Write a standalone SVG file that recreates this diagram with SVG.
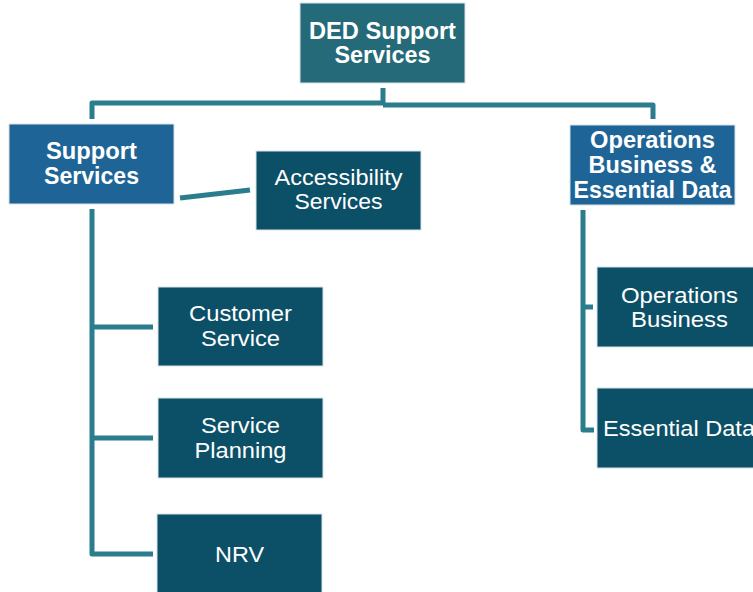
<svg xmlns="http://www.w3.org/2000/svg" width="753" height="592" viewBox="0 0 753 592">
  <style>
    .box { stroke: #d7e3e8; stroke-width: 1; }
    .top { fill: #246a78; }
    .mid { fill: #1f6496; }
    .leaf { fill: #0c5068; }
    .lbl { font-family: "Liberation Sans", Arial, sans-serif; fill: #ffffff; text-anchor: middle; }
    .b { font-weight: bold; font-size: 23px; }
    .r { font-size: 22px; }
    .wire { fill: none; stroke: #2a7d8c; stroke-width: 5; stroke-linejoin: round; stroke-linecap: butt; }
  </style>
  <rect width="753" height="592" fill="#ffffff"/>

  <g id="connectors">
    <path class="wire" d="M383 88 V103"/>
    <path class="wire" d="M92 119 V103 H383"/>
    <path class="wire" d="M383 105 H653 V119"/>
    <path class="wire" d="M180 198 L250 190"/>
    <path class="wire" d="M92 209 V554 H153"/>
    <path class="wire" d="M92 327 H153"/>
    <path class="wire" d="M92 438 H153"/>
    <path class="wire" d="M583 210 V430 H594"/>
    <path class="wire" d="M583 307 H593"/>
  </g>

  <g id="ded-support-services">
    <rect class="box top" x="300" y="3" width="165" height="80"/>
    <text class="lbl b" x="382.5" y="38.5" textLength="147" lengthAdjust="spacingAndGlyphs">DED Support</text>
    <text class="lbl b" x="382.5" y="62.5" textLength="96" lengthAdjust="spacingAndGlyphs">Services</text>
  </g>

  <g id="support-services">
    <rect class="box mid" x="9" y="124" width="165" height="80"/>
    <text class="lbl b" x="91.5" y="159" textLength="91" lengthAdjust="spacingAndGlyphs">Support</text>
    <text class="lbl b" x="91.5" y="183.5" textLength="95" lengthAdjust="spacingAndGlyphs">Services</text>
  </g>

  <g id="operations-business-essential-data">
    <rect class="box mid" x="570" y="125" width="165" height="80"/>
    <text class="lbl b" x="652.5" y="148" textLength="125" lengthAdjust="spacingAndGlyphs">Operations</text>
    <text class="lbl b" x="652.5" y="172.5" textLength="128" lengthAdjust="spacingAndGlyphs">Business &amp;</text>
    <text class="lbl b" x="652.5" y="197.5" textLength="158" lengthAdjust="spacingAndGlyphs">Essential Data</text>
  </g>

  <g id="accessibility-services">
    <rect class="box leaf" x="256" y="151" width="165" height="79"/>
    <text class="lbl r" x="338.5" y="185" textLength="128" lengthAdjust="spacingAndGlyphs">Accessibility</text>
    <text class="lbl r" x="338.5" y="209" textLength="88" lengthAdjust="spacingAndGlyphs">Services</text>
  </g>

  <g id="customer-service">
    <rect class="box leaf" x="158" y="287" width="165" height="79"/>
    <text class="lbl r" x="240.5" y="321" textLength="103" lengthAdjust="spacingAndGlyphs">Customer</text>
    <text class="lbl r" x="240.5" y="346" textLength="79" lengthAdjust="spacingAndGlyphs">Service</text>
  </g>

  <g id="service-planning">
    <rect class="box leaf" x="158" y="398" width="165" height="80"/>
    <text class="lbl r" x="240.5" y="432.5" textLength="79" lengthAdjust="spacingAndGlyphs">Service</text>
    <text class="lbl r" x="240.5" y="457.5" textLength="92" lengthAdjust="spacingAndGlyphs">Planning</text>
  </g>

  <g id="nrv">
    <rect class="box leaf" x="157" y="514" width="165" height="82"/>
    <text class="lbl r" x="239.5" y="562" textLength="49" lengthAdjust="spacingAndGlyphs">NRV</text>
  </g>

  <g id="operations-business">
    <rect class="box leaf" x="597" y="267" width="165" height="80"/>
    <text class="lbl r" x="679.5" y="302.5" textLength="117" lengthAdjust="spacingAndGlyphs">Operations</text>
    <text class="lbl r" x="679.5" y="326.5" textLength="97" lengthAdjust="spacingAndGlyphs">Business</text>
  </g>

  <g id="essential-data">
    <rect class="box leaf" x="597" y="388" width="165" height="80"/>
    <text class="lbl r" x="679" y="436" textLength="152" lengthAdjust="spacingAndGlyphs">Essential Data</text>
  </g>
</svg>
